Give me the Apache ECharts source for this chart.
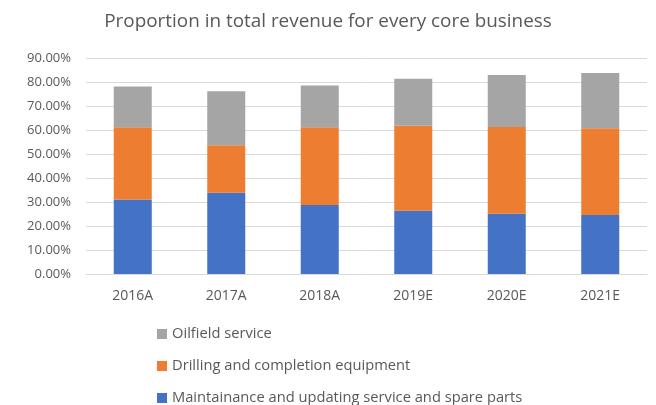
<!DOCTYPE html>
<html>
<head>
<meta charset="utf-8">
<script src="https://cdn.jsdelivr.net/npm/echarts@6/dist/echarts.min.js"></script>
<style>
  html, body { margin: 0; padding: 0; background: #fff; }
  #chart { width: 656px; height: 405px; }
</style>
</head>
<body>
<div id="chart"></div>
<script>
const years = ["2016A", "2017A", "2018A", "2019E", "2020E", "2021E"];
const maintenance = [31.0, 33.9, 28.75, 26.4, 25.1, 24.6];
const drilling = [30.1, 19.7, 32.35, 35.4, 36.15, 36.1];
const oilfield = [17.0, 22.5, 17.4, 19.6, 21.65, 23.05];
const yTicks = [0, 10, 20, 30, 40, 50, 60, 70, 80, 90];

const FONT = "'Open Sans', 'Liberation Sans', sans-serif";
const TEXT = "#595959";

const chart = echarts.init(document.getElementById("chart"));

const barStyle = (name, data, color) => ({
  name: name,
  type: "bar",
  stack: "total",
  data: data,
  barWidth: 38,
  itemStyle: { color: color },
});

chart.setOption({
  animation: false,
  backgroundColor: "#fff",
  title: {
    text: "Proportion in total revenue for every core business",
    left: "center",
    top: 7,
    textStyle: { fontFamily: FONT, fontSize: 18.9, fontWeight: "normal", color: TEXT },
  },
  grid: { left: 86, right: 9, top: 58, bottom: 131 },
  legend: {
    orient: "vertical",
    left: 157,
    top: 326,
    height: 120,
    padding: 0,
    itemWidth: 10,
    itemHeight: 10,
    itemGap: 16,
    icon: "rect",
    data: ["Oilfield service", "Drilling and completion equipment", "Maintainance and updating service and spare parts"],
    textStyle: { fontFamily: FONT, fontSize: 14.7, lineHeight: 16, color: TEXT },
  },
  xAxis: {
    type: "category",
    data: years,
    axisLine: { lineStyle: { color: "#d9d9d9" } },
    axisTick: { show: false },
    axisLabel: { fontFamily: FONT, fontSize: 14, color: TEXT, margin: 15 },
  },
  yAxis: {
    type: "value",
    min: yTicks[0],
    max: yTicks[yTicks.length - 1],
    interval: 10,
    axisLine: { show: false },
    axisTick: { show: false },
    splitLine: { lineStyle: { color: "#d9d9d9" } },
    axisLabel: {
      fontFamily: FONT,
      fontSize: 13,
      color: TEXT,
      margin: 15,
      formatter: (v) => v.toFixed(2) + "%",
    },
  },
  series: [
    barStyle("Maintainance and updating service and spare parts", maintenance, "#4472C4"),
    barStyle("Drilling and completion equipment", drilling, "#ED7D31"),
    barStyle("Oilfield service", oilfield, "#A5A5A5"),
  ],
});
</script>
</body>
</html>
